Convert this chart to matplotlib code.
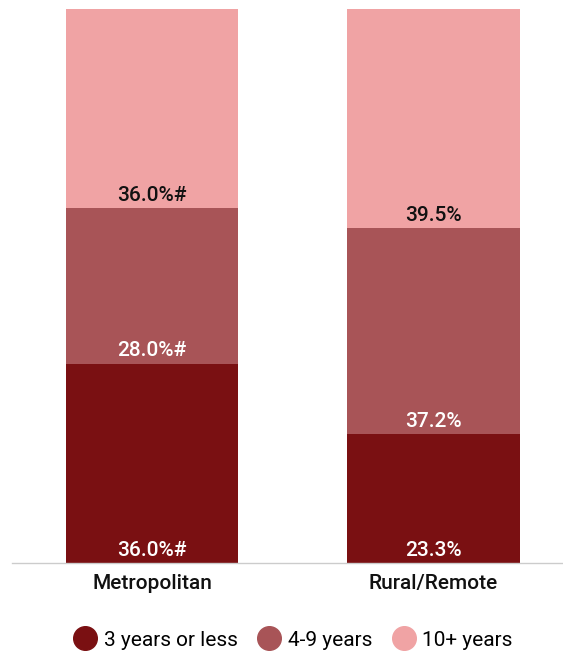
import matplotlib
matplotlib.use("Agg")
import matplotlib.pyplot as plt
from matplotlib.lines import Line2D

plt.rcParams['font.family'] = ['Roboto', 'DejaVu Sans']

categories = ['Metropolitan', 'Rural/Remote']
series_names = ['3 years or less', '4-9 years', '10+ years']
short_term = [36.0, 23.3]
mid_term = [28.0, 37.2]
long_term = [36.0, 39.5]
value_labels = [['36.0%#', '23.3%'], ['28.0%#', '37.2%'], ['36.0%#', '39.5%']]

colors = ['#7a1012', '#a85457', '#f0a3a4']
text_colors = ['white', 'white', '#111111']

fig = plt.figure(figsize=(5.63, 6.54), dpi=100)
ax = fig.add_axes([12 / 563, 91 / 654, 550 / 563, 554 / 654])

x = [0, 1]
width = 0.612
bottom = [0.0, 0.0]
for i, vals in enumerate([short_term, mid_term, long_term]):
    ax.bar(x, vals, width, bottom=bottom, color=colors[i], label=series_names[i])
    for j in range(len(x)):
        ax.text(x[j], bottom[j] + 0.6, value_labels[i][j], ha='center', va='bottom',
                color=text_colors[i], fontsize=15, fontweight='medium')
    bottom = [b + v for b, v in zip(bottom, vals)]

ax.set_xlim(-0.497, 1.456)
ax.set_ylim(0, 100)
ax.set_yticks([])
ax.set_xticks(x)
ax.set_xticklabels(categories, fontsize=15, fontweight='medium', color='#111111')
ax.tick_params(axis='x', length=0, pad=8)
for s in ['top', 'right', 'left']:
    ax.spines[s].set_visible(False)
ax.spines['bottom'].set_color('#cccccc')
ax.spines['bottom'].set_linewidth(1)

handles = [Line2D([0], [0], marker='o', linestyle='', markersize=17,
                  markerfacecolor=c, markeredgecolor=c) for c in colors]
fig.legend(handles, series_names, loc='center', bbox_to_anchor=(0.52, 0.021),
           ncol=3, frameon=False, fontsize=15, handletextpad=0.3, columnspacing=0.9,
           handlelength=1.2)

fig.savefig('out.png', dpi=100, facecolor='white')
